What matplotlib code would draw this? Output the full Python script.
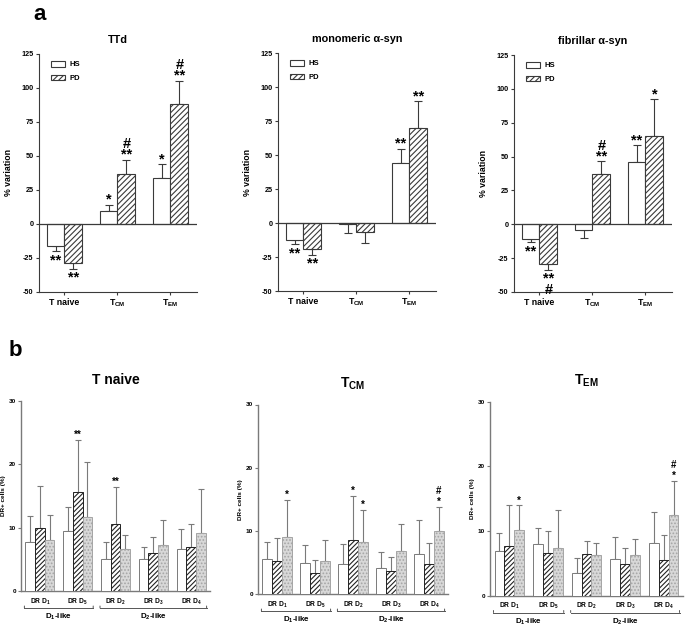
import matplotlib
matplotlib.use('Agg')
import matplotlib.pyplot as plt
from matplotlib.lines import Line2D
from matplotlib.patches import Patch
from matplotlib.transforms import offset_copy
import numpy as np

# ---------------- data ----------------
top_groups = ['T naive', r'T$_{\mathregular{CM}}$', r'T$_{\mathregular{EM}}$']

ttd_hs = [-16.5, 9.9, 33.8]
ttd_hs_err = [3.7, 4.1, 10.1]
ttd_pd = [-28.4, 36.7, 88.0]
ttd_pd_err = [4.4, 10.6, 17.5]
ttd_hs_ann = ['**', '*', '*']
ttd_pd_ann = ['**', '#\n**', '#\n**']

mono_hs = [-12.8, -1.0, 44.0]
mono_hs_err = [3.0, 6.2, 10.6]
mono_pd = [-18.8, -6.4, 70.0]
mono_pd_err = [4.4, 8.0, 19.7]
mono_hs_ann = ['**', '', '**']
mono_pd_ann = ['**', '', '**']

fib_hs = [-10.9, -4.5, 46.0]
fib_hs_err = [2.5, 5.9, 12.2]
fib_pd = [-29.0, 37.4, 65.3]
fib_pd_err = [4.7, 9.1, 27.0]
fib_hs_ann = ['**', '', '**']
fib_pd_ann = ['**\n#', '#\n**', '*']

receptors = [r'DR D$_{\mathregular{1}}$', r'DR D$_{\mathregular{5}}$', r'DR D$_{\mathregular{2}}$',
             r'DR D$_{\mathregular{3}}$', r'DR D$_{\mathregular{4}}$']
families = [r'D$_{\mathregular{1}}$-like', r'D$_{\mathregular{2}}$-like']

naive_white = [7.8, 9.5, 5.0, 5.1, 6.6]
naive_white_err = [4.0, 3.8, 2.7, 1.9, 3.2]
naive_hatch = [10.0, 15.6, 10.6, 6.0, 7.0]
naive_hatch_err = [6.6, 8.3, 5.9, 2.5, 3.6]
naive_gray = [8.0, 11.7, 6.6, 7.25, 9.1]
naive_gray_err = [4.0, 8.6, 2.2, 3.95, 7.0]
naive_ann = [['', '', ''], ['', '**', ''], ['', '**', ''], ['', '', ''], ['', '', '']]

cm_white = [5.6, 4.9, 4.7, 4.1, 6.3]
cm_white_err = [2.7, 2.8, 3.2, 2.5, 5.4]
cm_hatch = [5.3, 3.4, 8.5, 3.7, 4.7]
cm_hatch_err = [3.6, 1.95, 7.0, 2.1, 3.45]
cm_gray = [9.1, 5.2, 8.3, 6.85, 9.9]
cm_gray_err = [5.8, 3.4, 4.95, 4.25, 3.9]
cm_ann = [['', '', '*'], ['', '', ''], ['', '*', '*'], ['', '', ''], ['', '', '#\n*']]

em_white = [6.85, 7.9, 3.5, 5.65, 8.15]
em_white_err = [2.9, 2.5, 2.3, 3.45, 4.85]
em_hatch = [7.6, 6.6, 6.4, 4.8, 5.55]
em_hatch_err = [6.35, 3.4, 2.1, 2.6, 3.75]
em_gray = [10.2, 7.4, 6.3, 6.2, 12.45]
em_gray_err = [3.75, 5.8, 1.9, 2.6, 5.25]
em_ann = [['', '', '*'], ['', '', ''], ['', '', ''], ['', '', ''], ['', '', '#\n*']]

# ---------------- style ----------------
plt.rcParams['font.family'] = ['Liberation Sans', 'DejaVu Sans']
plt.rcParams['font.weight'] = 'bold'
plt.rcParams['hatch.linewidth'] = 0.8
plt.rcParams['axes.linewidth'] = 0.8

W, H = 685, 628
fig = plt.figure(figsize=(W / 100, H / 100), dpi=100)


def rect(x0, y0, x1, y1):
    return [x0 / W, 1 - y1 / H, (x1 - x0) / W, (y1 - y0) / H]


TOP_C = '#3a3a3a'
TOP_HATCH = '//////'


def top_panel(rc, title, hs, hs_err, pdv, pd_err, hs_ann, pd_ann):
    ax = fig.add_axes(rc)
    x = np.arange(len(top_groups))
    w = 0.335
    for vals, errs, off, hatch, anns, lab in [(hs, hs_err, -w / 2, None, hs_ann, 'HS'),
                                               (pdv, pd_err, w / 2, TOP_HATCH, pd_ann, 'PD')]:
        ax.bar(x + off, vals, w, color='white', edgecolor=TOP_C, linewidth=0.8,
               hatch=hatch, zorder=3, label=lab)
        lower = [e if v < 0 else 0 for v, e in zip(vals, errs)]
        upper = [e if v >= 0 else 0 for v, e in zip(vals, errs)]
        ax.errorbar(x + off, vals, yerr=[lower, upper], fmt='none', ecolor=TOP_C,
                    elinewidth=0.8, capsize=2.8, capthick=0.8, zorder=2)
        for xi, v, e, a in zip(x + off, vals, errs, anns):
            if not a:
                continue
            if v >= 0:
                ax.text(xi, v + e, a, ha='center', va='bottom', fontsize=10.5,
                        fontweight='bold', linespacing=0.7,
                        transform=offset_copy(ax.transData, fig, y=-2, units='dots'))
            else:
                ax.text(xi, v - e, a, ha='center', va='top', fontsize=10.5,
                        fontweight='bold', linespacing=0.7,
                        transform=offset_copy(ax.transData, fig, y=-2, units='dots'))
    ax.axhline(0, color=TOP_C, lw=0.9, zorder=4)
    ax.set_xlim(-0.48, 2.5)
    ax.set_ylim(-50, 125)
    ax.set_yticks(np.arange(-50, 126, 25))
    ax.set_yticklabels([str(v) for v in np.arange(-50, 126, 25)], fontsize=5.2, fontweight='bold')
    ax.set_xticks(x)
    ax.set_xticklabels(top_groups, fontsize=6.3, fontweight='bold')
    ax.tick_params(axis='both', length=2.5, width=0.8, color=TOP_C, pad=1.5)
    for s in ['top', 'right']:
        ax.spines[s].set_visible(False)
    for s in ['left', 'bottom']:
        ax.spines[s].set_color(TOP_C)
    ax.set_ylabel('% variation', fontsize=6.3, fontweight='bold', labelpad=6)
    ax.set_title(title, fontsize=7.8, fontweight='bold', pad=8)
    handles = [Patch(facecolor='white', edgecolor=TOP_C, linewidth=0.8),
               Patch(facecolor='white', edgecolor=TOP_C, linewidth=0.8, hatch=TOP_HATCH)]
    ax.legend(handles, ['HS', 'PD'], loc='upper left', bbox_to_anchor=(0.03, 1.0), frameon=False,
              handlelength=1.9, handleheight=0.8, labelspacing=0.8,
              handletextpad=0.6, prop={'weight': 'bold', 'size': 5.5})
    return ax


top_panel(rect(39, 54, 197, 292), 'TTd', ttd_hs, ttd_hs_err, ttd_pd, ttd_pd_err, ttd_hs_ann, ttd_pd_ann)
top_panel(rect(278, 53, 436, 291), 'monomeric α-syn', mono_hs, mono_hs_err, mono_pd, mono_pd_err,
          mono_hs_ann, mono_pd_ann)
top_panel(rect(514, 55, 672, 292), 'fibrillar α-syn', fib_hs, fib_hs_err, fib_pd, fib_pd_err,
          fib_hs_ann, fib_pd_ann)

BOT_C = '#7a7a7a'


def bottom_panel(rc, title, series, errs, anns):
    ax = fig.add_axes(rc)
    x = np.arange(len(receptors))
    w = 0.255
    styles = [dict(color='white', edgecolor=BOT_C, hatch=None),
              dict(color='white', edgecolor='#222222', hatch='///////'),
              dict(color='#d8d8d8', edgecolor='#a5a5a5', hatch='.....')]
    for k, (vals, ers, st) in enumerate(zip(series, errs, styles)):
        xs = x + (k - 1) * w
        ax.bar(xs, vals, w, linewidth=0.7, zorder=3, **st)
        ax.errorbar(xs, vals, yerr=[[0] * len(vals), ers], fmt='none', ecolor=BOT_C,
                    elinewidth=0.8, capsize=2.2, capthick=0.8, zorder=2)
        for i in range(len(vals)):
            a = anns[i][k]
            if a:
                ax.text(xs[i], vals[i] + ers[i], a, ha='center', va='bottom', fontsize=7,
                        fontweight='bold', linespacing=1.15,
                        transform=offset_copy(ax.transData, fig, y=0, units='dots'))
    ax.set_xlim(-0.5, 4.5)
    ax.set_ylim(0, 30)
    ax.set_yticks([0, 10, 20, 30])
    ax.set_yticklabels(['0', '10', '20', '30'], fontsize=4.6, fontweight='bold')
    ax.set_xticks(x)
    ax.set_xticklabels(receptors, fontsize=4.8, fontweight='bold')
    ax.tick_params(axis='y', length=2, width=0.8, color=BOT_C, pad=1.5)
    ax.tick_params(axis='x', length=0, pad=4)
    for s in ['top', 'right']:
        ax.spines[s].set_visible(False)
    for s in ['left', 'bottom']:
        ax.spines[s].set_color(BOT_C)
        ax.spines[s].set_linewidth(1.0)
    ax.set_ylabel('DR+ cells (%)', fontsize=4.6, fontweight='bold', labelpad=2)
    ax.set_title(title, fontsize=10, fontweight='bold', pad=12)
    # family brackets
    tr_line = offset_copy(ax.get_xaxis_transform(), fig, y=-17, units='dots')
    tr_tick = offset_copy(ax.get_xaxis_transform(), fig, y=-15, units='dots')
    tr_lab = offset_copy(ax.get_xaxis_transform(), fig, y=-26, units='dots')
    for (g0, g1), lab in zip([(0, 1), (2, 4)], families):
        xa, xb = g0 - 0.41, g1 + 0.41
        ax.add_line(Line2D([xa, xb], [0, 0], transform=tr_line, color='#555555', lw=0.7,
                           clip_on=False))
        for xe in (xa, xb):
            ax.annotate('', xy=(xe, 0), xycoords=tr_tick, xytext=(xe, 0), textcoords=tr_line,
                        arrowprops=dict(arrowstyle='-', color='#555555', lw=0.7,
                                        shrinkA=0, shrinkB=0))
        ax.text((g0 + g1) / 2, 0, lab, transform=tr_lab, ha='center', va='center',
                fontsize=5.8, fontweight='bold')
    return ax


bottom_panel(rect(21, 401, 210, 591), 'T naive',
             [naive_white, naive_hatch, naive_gray],
             [naive_white_err, naive_hatch_err, naive_gray_err], naive_ann)
bottom_panel(rect(258, 404.5, 448, 594), r'T$_{\mathregular{CM}}$',
             [cm_white, cm_hatch, cm_gray],
             [cm_white_err, cm_hatch_err, cm_gray_err], cm_ann)
bottom_panel(rect(490, 401.7, 683, 595.5), r'T$_{\mathregular{EM}}$',
             [em_white, em_hatch, em_gray],
             [em_white_err, em_hatch_err, em_gray_err], em_ann)

fig.text(40 / W, 1 - 14 / H, 'a', fontsize=16, fontweight='bold', ha='center', va='center')
fig.text(15 / W, 1 - 350 / H, 'b', fontsize=16, fontweight='bold', ha='center', va='center')

fig.savefig('out.png', dpi=100)
